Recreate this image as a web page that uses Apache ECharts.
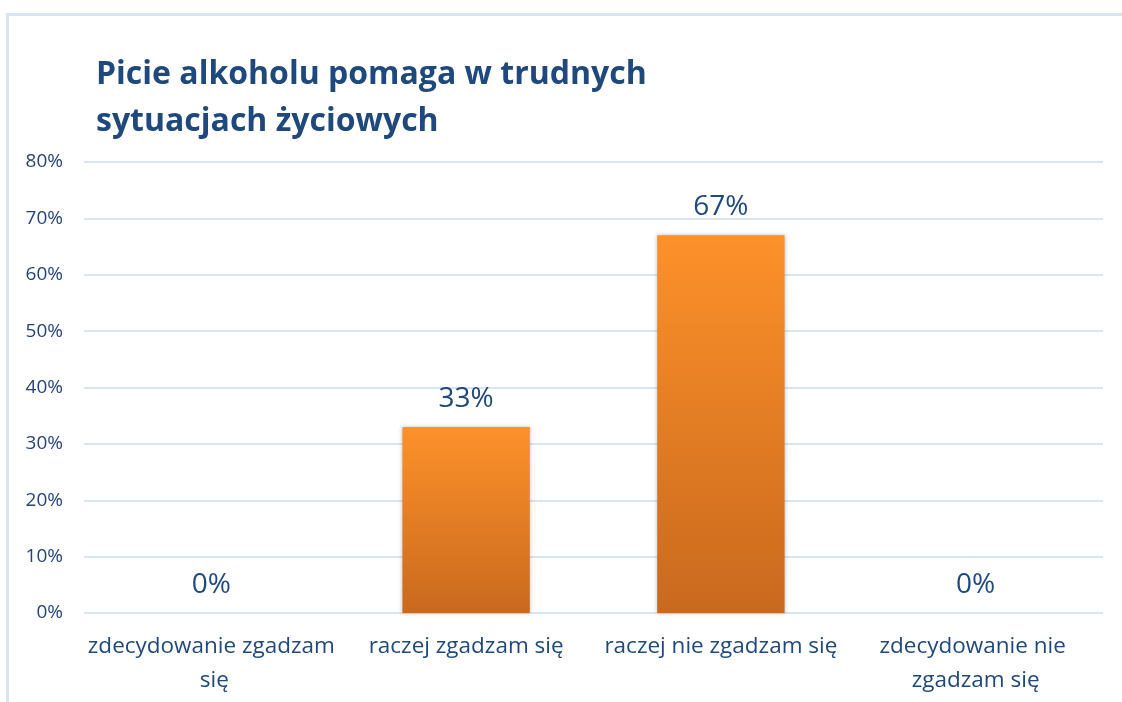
<!DOCTYPE html>
<html>
<head>
<meta charset="utf-8">
<script src="https://cdn.jsdelivr.net/npm/echarts@6/dist/echarts.min.js"></script>
<style>
  html, body { margin: 0; padding: 0; background: #fff; }
  #frame {
    position: absolute; left: 6px; top: 13px; right: -10px; bottom: -10px;
    border-top: 3px solid #dae5f3; border-left: 3px solid #dae5f3;
  }
  #chart { position: absolute; left: 0; top: 0; width: 1122px; height: 702px; }
</style>
</head>
<body>
<div id="frame"></div>
<div id="chart"></div>
<script>
  // odpowiedzi i odsetki
  const categories = ['zdecydowanie zgadzam się', 'raczej zgadzam się', 'raczej nie zgadzam się', 'zdecydowanie nie zgadzam się'];
  const percents = [0, 33, 67, 0];
  const title = 'Picie alkoholu pomaga w trudnych\nsytuacjach życiowych';

  const navy = '#1f497d';
  const font = 'Open Sans';

  const myChart = echarts.init(document.getElementById('chart'));
  myChart.setOption({
    animation: false,
    title: {
      text: title,
      left: 91,
      top: 46,
      textStyle: {
        fontFamily: font,
        fontWeight: 'bold',
        fontSize: 32,
        lineHeight: 47,
        color: navy,
      },
    },
    grid: { left: 84, right: 19, top: 162, bottom: 89 },
    xAxis: {
      type: 'category',
      data: categories,
      axisLine: { show: false },
      axisTick: { show: false },
      axisLabel: {
        interval: 0,
        width: 252,
        overflow: 'break',
        margin: 17,
        fontFamily: font,
        fontSize: 22.5,
        lineHeight: 34,
        color: navy,
      },
    },
    yAxis: {
      type: 'value',
      min: 0,
      max: 80,
      interval: 10,
      axisLabel: {
        formatter: '{value}%',
        margin: 21,
        fontFamily: font,
        fontSize: 19,
        color: '#264478',
      },
      splitLine: { lineStyle: { color: '#d9e4f1', width: 2 } },
    },
    series: [
      {
        type: 'bar',
        data: percents,
        barWidth: '50%',
        itemStyle: {
          color: new echarts.graphic.LinearGradient(0, 0, 0, 1, [
            { offset: 0, color: '#fd912a' },
            { offset: 1, color: '#c9691e' },
          ]),
          shadowColor: 'rgba(0,0,0,0.25)',
          shadowBlur: 4,
        },
        label: {
          show: true,
          position: 'top',
          distance: 14,
          formatter: '{c}%',
          fontFamily: font,
          fontSize: 28,
          color: navy,
        },
      },
    ],
  });
</script>
</body>
</html>
